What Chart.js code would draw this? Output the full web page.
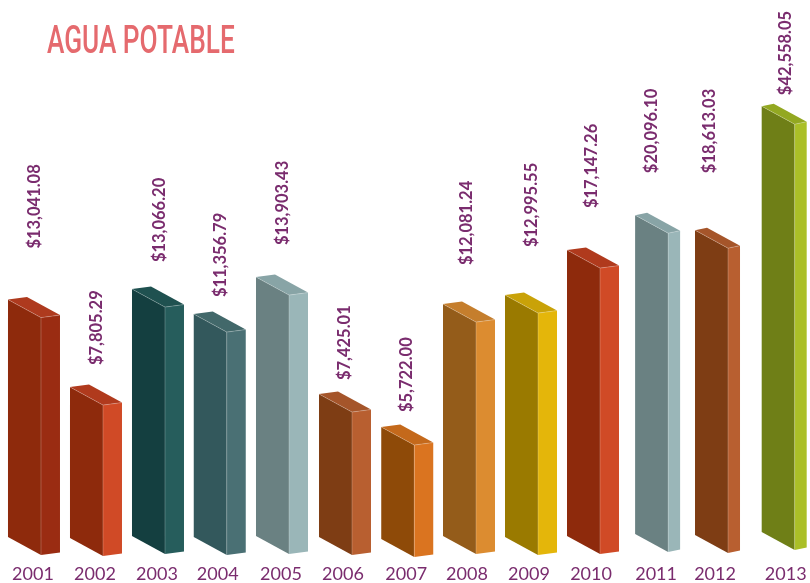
<!DOCTYPE html>
<html>
<head>
<meta charset="utf-8">
<style>html,body{margin:0;padding:0;background:#fff}#wrap{width:810px;height:583px}</style>
<script src="https://cdn.jsdelivr.net/npm/chart.js@4"></script>
</head>
<body>
<div id="wrap"><canvas id="c" width="810" height="583"></canvas></div>
<script>
const years = ['2001','2002','2003','2004','2005','2006','2007','2008','2009','2010','2011','2012','2013'];
const amounts = ['$13,041.08','$7,805.29','$13,066.20','$11,356.79','$13,903.43','$7,425.01','$5,722.00','$12,081.24','$12,995.55','$17,147.26','$20,096.10','$18,613.03','$42,558.05'];
// the picture is not drawn to scale: each bar's height as read from it
const barHeights = [237.5,151,247,223,259,143,112,232,242,286,319,305,426];
// axis slot of each year (the last columns sit slightly off the even spacing)
const slots = [2001,2002,2003,2003.98,2005,2006,2007.02,2008,2009,2010,2011.05,2012,2013.14];
// drawing style per bar
const frontColors = ['#8E2A0C','#8E2A0C','#143F40','#33585C','#6A8182','#7E3D14','#8E4A08','#945C1A','#9A7A00','#8E2A0C','#6A8182','#7E3D14','#6F7F17'];
const sideColors  = ['#9A2C12','#D04A26','#265D5C','#4A7074','#9AB6B8','#B85F30','#DA7420','#DC8C30','#E4B60A','#D04A26','#9AB6B8','#B85F30','#AABF27'];
const topColors   = ['#AE3A1E','#B03A1D','#1F5150','#42686A','#88A4A6','#A5552A','#C4691B','#C57E2D','#C9A208','#B03A1D','#88A4A6','#A5552A','#93A821'];
const sideWidths  = [19,19,19,19,19,19,19,19,19,19,12,12,12];
const leftOffsets = [25,25,25,24,25,24,25,24,24,24,21,20,24];
const baseShifts  = [0,1,-1,0,-1,0,2,-1,0,-1,-3,-2,-5];
const labelGaps   = [51,22,27,17,32,14,15,39,48,42,42,57,11];
const labelShifts = [2,2,3,3,2,2,0,0,3,1,-4,-5,0];

const FRONT_W = 33, DROP = 18, RISE = 2.5, TITLE_X = 47, TITLE_SQUEEZE = 0.69;
function poly(ctx, pts, fill){
  ctx.beginPath();
  pts.forEach((p,i)=> i ? ctx.lineTo(p[0],p[1]) : ctx.moveTo(p[0],p[1]));
  ctx.closePath();
  ctx.fillStyle = fill;
  ctx.fill();
}
const bars3d = {
  id:'bars3d',
  afterLayout(chart){
    const t = chart.titleBlock;
    t.left = TITLE_X;
    if(!t._squeezed){
      const draw = t.draw;
      t.draw = function(area){
        const ctx = chart.ctx;
        ctx.save();
        ctx.translate(TITLE_X,0); ctx.scale(TITLE_SQUEEZE,1); ctx.translate(-TITLE_X,0);
        draw.call(this,area);
        ctx.restore();
      };
      t._squeezed = true;
    }
  },
  afterDatasetsDraw(chart){
    const ctx = chart.ctx;
    chart.getDatasetMeta(0).data.forEach((el,i)=>{
      const shift = baseShifts[i];
      const x0 = el.x - leftOffsets[i];
      const top = el.y + shift, base = el.base + shift;
      const x1 = x0 + FRONT_W, s = sideWidths[i], x2 = x1 + s;
      poly(ctx,[[x0,top],[x1,top+DROP],[x1,base+DROP],[x0,base]],frontColors[i]);
      poly(ctx,[[x1,top+DROP],[x2,top+DROP-RISE],[x2,base+DROP-RISE],[x1,base+DROP]],sideColors[i]);
      poly(ctx,[[x0,top],[x0+s,top-RISE],[x2,top+DROP-RISE],[x1,top+DROP]],topColors[i]);
      ctx.strokeStyle = 'rgba(255,255,255,0.28)';
      ctx.lineWidth = 0.8;
      ctx.beginPath();
      ctx.moveTo(x0,top); ctx.lineTo(x1,top+DROP); ctx.lineTo(x2,top+DROP-RISE);
      ctx.moveTo(x1,top+DROP); ctx.lineTo(x1,base+DROP);
      ctx.stroke();
      ctx.save();
      ctx.translate(el.x + labelShifts[i], top - labelGaps[i]);
      ctx.rotate(-Math.PI/2);
      ctx.font = 'bold 16.5px Lato';
      ctx.fillStyle = '#7A2C6E';
      ctx.textAlign = 'left';
      ctx.textBaseline = 'middle';
      ctx.fillText(amounts[i],0,0);
      ctx.restore();
    });
  }
};
new Chart(document.getElementById('c'),{
  type:'bar',
  data:{datasets:[{
    data:barHeights.map((h,i)=>({x:slots[i],y:h})),
    backgroundColor:'rgba(0,0,0,0)',
    borderWidth:0
  }]},
  options:{
    responsive:false,
    animation:false,
    layout:{padding:0},
    plugins:{
      legend:{display:false},
      tooltip:{enabled:false},
      title:{display:true,text:'AGUA POTABLE',align:'start',color:'#E56A6E',
        font:{family:'Roboto',size:38,weight:'500'},
        padding:{top:21,bottom:4}}
    },
    scales:{
      x:{type:'linear',offset:false,min:2000.468,max:2013.532,
        afterBuildTicks(scale){ scale.ticks = slots.map(v=>({value:v})); },
        afterFit(scale){ scale.height = 46; scale.paddingLeft = 0; scale.paddingRight = 0; },
        grid:{display:false,drawTicks:false},
        border:{display:false},
        ticks:{autoSkip:false,maxRotation:0,padding:26,color:'#7A2C6E',
          font:{family:'Lato',size:18},
          callback(v){ return years[slots.indexOf(v)]; }}
      },
      y:{display:false,min:0,max:466.6}
    }
  },
  plugins:[bars3d]
});
</script>
</body>
</html>
